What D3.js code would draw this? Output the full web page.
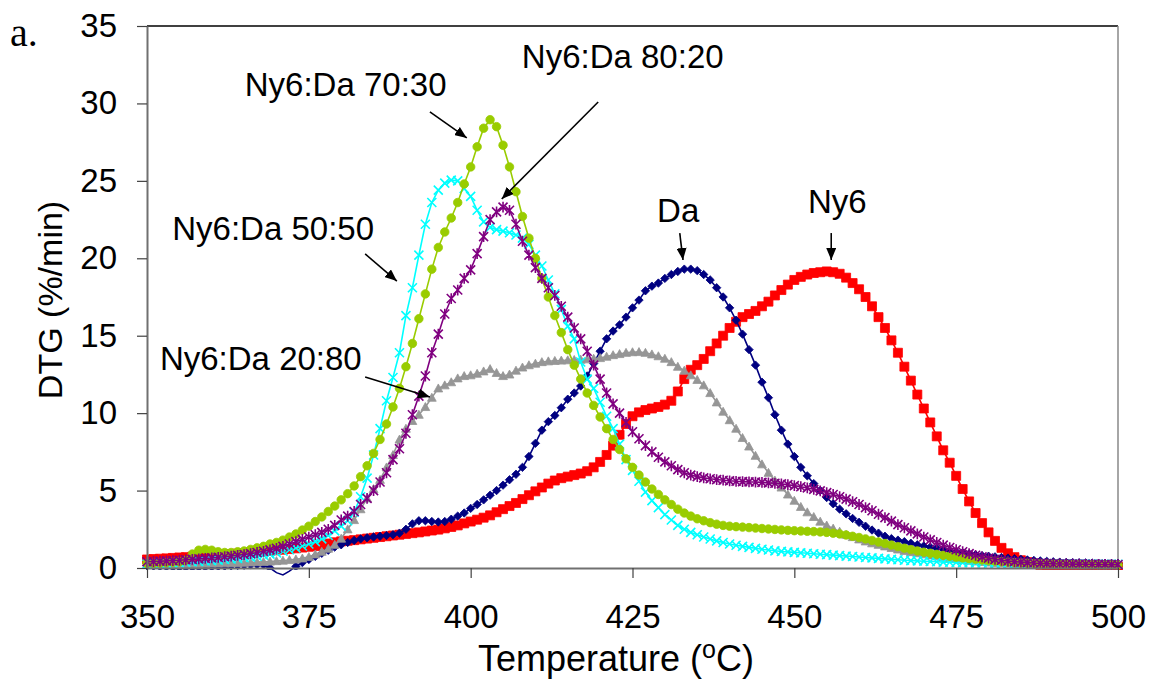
<!DOCTYPE html>
<html>
<head>
<meta charset="utf-8">
<script src="https://cdn.jsdelivr.net/npm/d3@7"></script>
<style>
  html, body { margin: 0; padding: 0; background: #fff; }
  svg { display: block; }
  text { font-family: "Liberation Sans", Arial, sans-serif; fill: #000; }
</style>
</head>
<body>
<svg id="chart" width="1152" height="680"></svg>
<script>
// ---------- data ----------
const temperatures = d3.range(350, 501, 1); // °C, one reading per degree

const ny6 = [
  0.55,0.58,0.6,0.62,0.65,0.68,0.7,0.73,0.76,0.79,
  0.82,0.85,0.88,0.9,0.93,0.96,1.0,1.03,1.07,1.1,
  1.14,1.18,1.22,1.27,1.32,1.37,1.42,1.5,1.58,1.66,
  1.72,1.76,1.8,1.85,1.9,1.95,2.0,2.05,2.1,2.15,
  2.2,2.25,2.3,2.36,2.42,2.48,2.56,2.65,2.75,2.88,
  3.0,3.12,3.25,3.4,3.6,3.8,4.0,4.2,4.45,4.7,
  4.95,5.2,5.45,5.65,5.8,5.9,6.0,6.1,6.25,6.5,
  6.85,7.3,7.9,8.6,9.3,9.8,10.05,10.2,10.3,10.4,
  10.55,10.8,11.4,12.2,12.8,13.1,13.5,14.0,14.5,15.0,
  15.5,15.9,16.2,16.4,16.6,16.9,17.2,17.6,17.95,18.3,
  18.6,18.8,18.95,19.05,19.1,19.15,19.1,19.0,18.75,18.4,
  18.0,17.5,16.9,16.2,15.5,14.7,13.9,13.0,12.1,11.2,
  10.3,9.4,8.5,7.6,6.8,5.95,5.1,4.3,3.55,2.9,
  2.3,1.75,1.3,0.95,0.7,0.5,0.38,0.28,0.2,0.15,
  0.12,0.1,0.1,0.09,0.09,0.08,0.08,0.08,0.08,0.08,0.08
];

const da = [
  0.15,0.12,0.1,0.08,0.06,0.05,0.05,0.05,0.06,0.07,
  0.08,0.1,0.12,0.14,0.16,0.18,0.2,0.22,0.2,0.0,
  -0.3,-0.45,-0.2,0.1,0.35,0.55,0.75,0.95,1.15,1.35,
  1.5,1.65,1.78,1.88,1.95,2.0,2.05,2.1,2.15,2.25,
  2.5,2.85,3.05,3.05,3.0,2.97,3.0,3.15,3.35,3.55,
  3.85,4.1,4.4,4.7,5.0,5.35,5.7,6.05,6.5,7.2,
  8.05,8.9,9.45,9.85,10.35,10.9,11.3,11.75,12.4,13.2,
  14.0,14.8,15.3,15.7,16.2,16.8,17.3,17.9,18.2,18.4,
  18.7,18.95,19.15,19.3,19.3,19.2,18.95,18.6,18.1,17.5,
  16.8,16.0,15.1,14.1,13.1,12.0,11.0,9.9,8.9,8.0,
  7.2,6.5,5.95,5.45,5.0,4.55,4.15,3.8,3.5,3.2,
  2.95,2.7,2.45,2.25,2.05,1.9,1.8,1.7,1.6,1.5,
  1.42,1.35,1.28,1.2,1.12,1.05,0.98,0.92,0.86,0.8,
  0.76,0.72,0.68,0.64,0.6,0.56,0.52,0.49,0.46,0.43,
  0.4,0.38,0.36,0.35,0.34,0.33,0.32,0.31,0.3,0.3,0.3
];

const mix7030 = [
  0.3,0.3,0.32,0.35,0.38,0.4,0.5,0.9,1.15,1.2,
  1.15,1.05,1.0,1.0,1.05,1.1,1.2,1.3,1.4,1.55,
  1.65,1.8,2.0,2.2,2.45,2.7,3.0,3.3,3.65,4.0,
  4.4,4.8,5.3,5.9,6.6,7.4,8.3,9.3,10.4,11.6,
  13.0,14.5,16.1,17.7,19.3,20.7,21.7,22.6,23.6,24.8,
  25.9,27.2,28.4,28.95,28.5,27.3,25.9,24.3,22.7,21.3,
  20.0,18.7,17.5,16.3,15.2,14.1,13.1,12.2,11.3,10.5,
  9.75,9.0,8.3,7.65,7.05,6.5,6.0,5.55,5.1,4.75,
  4.4,4.1,3.8,3.55,3.35,3.18,3.05,2.93,2.83,2.75,
  2.7,2.67,2.64,2.61,2.58,2.55,2.52,2.49,2.46,2.43,
  2.41,2.39,2.37,2.35,2.33,2.3,2.25,2.2,2.13,2.05,
  1.97,1.88,1.78,1.68,1.58,1.48,1.38,1.28,1.19,1.1,
  1.02,0.95,0.88,0.82,0.76,0.7,0.65,0.6,0.56,0.52,
  0.48,0.44,0.41,0.38,0.35,0.33,0.31,0.29,0.27,0.26,
  0.25,0.24,0.23,0.22,0.22,0.21,0.21,0.2,0.2,0.2,0.2
];

const mix5050 = [
  0.25,0.27,0.29,0.31,0.33,0.35,0.37,0.4,0.42,0.45,
  0.48,0.51,0.55,0.58,0.62,0.66,0.7,0.76,0.83,0.9,
  0.98,1.08,1.18,1.3,1.42,1.55,1.7,1.88,2.1,2.4,
  2.7,3.05,3.6,4.6,5.8,7.3,9.0,10.8,12.3,13.9,
  16.3,18.1,20.2,22.2,23.6,24.4,24.85,25.05,25.0,24.5,
  24.0,23.1,22.35,22.0,21.85,21.75,21.65,21.5,21.3,20.9,
  20.2,19.5,18.6,17.7,16.7,15.6,14.8,13.3,12.2,11.6,
  10.7,9.8,9.0,8.0,7.0,6.3,5.6,4.9,4.35,3.9,
  3.45,3.1,2.75,2.5,2.3,2.15,2.0,1.87,1.75,1.65,
  1.55,1.47,1.4,1.33,1.27,1.21,1.16,1.11,1.07,1.04,
  1.01,0.98,0.95,0.92,0.89,0.86,0.83,0.8,0.77,0.74,
  0.71,0.68,0.65,0.62,0.59,0.56,0.53,0.5,0.48,0.46,
  0.44,0.42,0.4,0.38,0.37,0.36,0.35,0.34,0.33,0.32,
  0.31,0.3,0.3,0.29,0.29,0.28,0.28,0.27,0.27,0.27,
  0.26,0.26,0.26,0.25,0.25,0.25,0.25,0.25,0.24,0.24,0.24
];

const mix2080 = [
  0.2,0.2,0.21,0.22,0.23,0.24,0.25,0.26,0.27,0.28,
  0.29,0.3,0.31,0.32,0.33,0.34,0.36,0.38,0.4,0.42,
  0.45,0.48,0.52,0.56,0.62,0.72,0.88,1.05,1.25,1.5,
  1.9,2.5,3.1,3.8,4.5,5.1,5.7,6.5,7.3,8.3,
  9.0,9.5,9.9,10.4,11.0,11.6,11.8,12.0,12.25,12.4,
  12.45,12.55,12.7,12.85,12.6,12.4,12.5,12.75,12.95,13.1,
  13.2,13.3,13.35,13.38,13.4,13.42,13.44,13.46,13.48,13.52,
  13.56,13.65,13.75,13.82,13.9,13.94,13.95,13.9,13.8,13.68,
  13.52,13.3,13.0,12.75,12.45,12.15,11.8,11.3,10.7,10.1,
  9.55,9.0,8.4,7.85,7.25,6.7,6.15,5.65,5.2,4.75,
  4.35,3.95,3.6,3.3,3.0,2.75,2.55,2.35,2.15,2.0,
  1.85,1.72,1.6,1.5,1.4,1.3,1.2,1.11,1.03,0.96,
  0.89,0.82,0.76,0.7,0.64,0.58,0.52,0.47,0.43,0.39,
  0.36,0.33,0.31,0.29,0.27,0.26,0.25,0.24,0.23,0.23,
  0.23,0.22,0.22,0.22,0.21,0.21,0.21,0.2,0.2,0.2,0.2
];

const mix8020 = [
  0.4,0.42,0.44,0.46,0.48,0.5,0.53,0.56,0.59,0.62,
  0.65,0.69,0.73,0.77,0.82,0.87,0.93,1.0,1.08,1.17,
  1.27,1.4,1.55,1.7,1.85,2.0,2.15,2.3,2.5,2.75,
  3.1,3.35,3.65,4.1,4.5,5.0,5.55,6.15,7.0,7.7,
  8.7,9.9,11.1,12.4,13.9,15.1,16.4,17.4,17.95,18.7,
  19.25,20.3,21.4,22.5,23.0,23.3,23.1,22.2,21.1,20.2,
  19.4,18.7,18.1,17.6,16.9,16.2,15.5,14.8,14.0,13.1,
  12.2,11.3,10.6,10.0,9.4,8.8,8.35,7.9,7.5,7.15,
  6.85,6.6,6.35,6.15,6.0,5.9,5.82,5.76,5.71,5.67,
  5.63,5.6,5.58,5.56,5.55,5.53,5.5,5.47,5.43,5.38,
  5.32,5.25,5.17,5.08,4.98,4.87,4.75,4.6,4.45,4.28,
  4.1,3.9,3.7,3.47,3.25,3.03,2.8,2.6,2.4,2.2,
  2.0,1.82,1.65,1.48,1.32,1.18,1.05,0.93,0.82,0.72,
  0.64,0.56,0.5,0.45,0.41,0.38,0.35,0.32,0.3,0.28,
  0.27,0.26,0.26,0.25,0.25,0.24,0.24,0.23,0.23,0.22,0.22
];

const xTicks = [350, 375, 400, 425, 450, 475, 500];
const yTicks = [0, 5, 10, 15, 20, 25, 30, 35];

// series (drawing order: first is at the back)
const seriesNames  = ["Ny6", "Da", "Ny6:Da 20:80", "Ny6:Da 50:50", "Ny6:Da 70:30", "Ny6:Da 80:20"];
const seriesValues = [ny6, da, mix2080, mix5050, mix7030, mix8020];
const seriesColors = ["#ff0000", "#000080", "#969696", "#00ffff", "#99cc00", "#800080"];
const seriesMarkers = ["square", "diamond", "triangle", "x", "circle", "star"];

// annotations: label anchor and arrow, in data units (°C, %/min)
const annotLabels = ["Ny6:Da 70:30", "Ny6:Da 80:20", "Ny6:Da 50:50", "Ny6:Da 20:80", "Da", "Ny6"];
const annotTextAt = [[365.1, 30.48], [407.9, 32.29], [353.9, 21.18], [352.0, 12.79], [428.8, 22.34], [452.1, 22.92]];
const annotArrowFrom = [[393.7, 29.45], [419.7, 30.09], [383.7, 20.28], [383.7, 12.33], [432.3, 21.63], [455.7, 21.63]];
const annotArrowTo   = [[399.4, 27.77], [404.8, 23.83], [388.6, 18.53], [393.7, 11.04], [432.8, 19.89], [455.7, 19.89]];

// ---------- chart ----------
const svg = d3.select("#chart");
const plotLeft = 147, plotRight = 1118, plotTop = 26, plotBottom = 568;

const x = d3.scaleLinear().domain([350, 500]).range([plotLeft, plotRight]);
const y = d3.scaleLinear().domain([0, 35]).range([plotBottom, plotTop]);

// clip for markers (markers outside the plot area are hidden)
svg.append("defs").append("clipPath").attr("id", "plotclip")
  .append("rect").attr("x", plotLeft - 6).attr("y", plotTop - 6)
  .attr("width", plotRight - plotLeft + 12).attr("height", plotBottom - plotTop + 8);

// plot frame: top and right borders
svg.append("line").attr("x1", plotLeft).attr("x2", plotRight).attr("y1", plotTop).attr("y2", plotTop)
  .attr("stroke", "#000").attr("stroke-width", 1.5);
svg.append("line").attr("x1", plotRight).attr("x2", plotRight).attr("y1", plotTop).attr("y2", plotBottom)
  .attr("stroke", "#888").attr("stroke-width", 1.5);

// marker shapes
function markerPath(kind, s) {
  const h = s / 2;
  switch (kind) {
    case "square": return `M${-h},${-h}H${h}V${h}H${-h}Z`;
    case "diamond": return `M0,${-h * 1.2}L${h * 1.2},0L0,${h * 1.2}L${-h * 1.2},0Z`;
    case "triangle": return `M0,${-h * 1.1}L${h * 1.1},${h * 0.9}L${-h * 1.1},${h * 0.9}Z`;
    case "circle": return d3.symbol(d3.symbolCircle, Math.PI * h * h)();
    case "x": return `M${-h},${-h}L${h},${h}M${-h},${h}L${h},${-h}`;
    case "star": return `M${-h},${-h}L${h},${h}M${-h},${h}L${h},${-h}M0,${-h * 1.2}L0,${h * 1.2}`;
  }
}
const markerSize = { square: 9, diamond: 7, triangle: 8, circle: 8.5, x: 9, star: 9 };

const line = d3.line().x(d => x(d[0])).y(d => y(d[1]));

seriesNames.forEach((name, i) => {
  const pts = temperatures.map((t, j) => [t, seriesValues[i][j]]);
  const g = svg.append("g").attr("class", "series").attr("data-name", name);
  g.append("path").datum(pts).attr("d", line)
    .attr("fill", "none").attr("stroke", seriesColors[i]).attr("stroke-width", 1.6);
  const kind = seriesMarkers[i];
  const open = (kind === "x" || kind === "star");
  g.append("g").attr("clip-path", "url(#plotclip)")
    .selectAll("path.m").data(pts.filter(d => d[1] >= -0.05)).join("path").attr("class", "m")
    .attr("transform", d => `translate(${x(d[0])},${y(d[1])})`)
    .attr("d", markerPath(kind, markerSize[kind]))
    .attr("fill", open ? "none" : seriesColors[i])
    .attr("stroke", seriesColors[i])
    .attr("stroke-width", open ? 1.6 : 0.8);
});

// axes
const xAxis = svg.append("g").attr("transform", `translate(0,${plotBottom})`)
  .call(d3.axisBottom(x).tickValues(xTicks).tickSize(10).tickSizeOuter(0).tickPadding(27));
const yAxis = svg.append("g").attr("transform", `translate(${plotLeft},0)`)
  .call(d3.axisLeft(y).tickValues(yTicks).tickSize(10).tickSizeOuter(0).tickPadding(20));
[xAxis, yAxis].forEach(a => {
  a.select(".domain").attr("stroke", "#707070").attr("stroke-width", 2);
  a.selectAll(".tick line").attr("stroke", "#404040").attr("stroke-width", 1.2);
  a.selectAll(".tick text").attr("font-size", 33).style("font-family", "'Liberation Sans', Arial, sans-serif").attr("fill", "#000");
});

// axis titles
svg.append("text").attr("x", 616).attr("y", 671)
  .attr("text-anchor", "middle").attr("font-size", 36)
  .html("Temperature (<tspan font-size='25' dy='-13'>o</tspan><tspan dy='13'>C)</tspan>");
svg.append("text").attr("transform", "translate(62,300) rotate(-90)")
  .attr("text-anchor", "middle").attr("font-size", 34).text("DTG (%/min)");

// panel letter
svg.append("text").attr("x", 10).attr("y", 46).attr("font-size", 40)
  .style("font-family", "'Liberation Serif', 'Times New Roman', serif").text("a.");

// arrowhead
svg.select("defs").append("marker").attr("id", "arrow")
  .attr("viewBox", "0 0 12 10").attr("refX", 12).attr("refY", 5)
  .attr("markerWidth", 12).attr("markerHeight", 10).attr("markerUnits", "userSpaceOnUse")
  .attr("orient", "auto")
  .append("path").attr("d", "M0,0L12,5L0,10Z").attr("fill", "#000");

annotLabels.forEach((lab, i) => {
  svg.append("text").attr("x", x(annotTextAt[i][0])).attr("y", y(annotTextAt[i][1]))
    .attr("font-size", 33).text(lab);
  svg.append("line")
    .attr("x1", x(annotArrowFrom[i][0])).attr("y1", y(annotArrowFrom[i][1]))
    .attr("x2", x(annotArrowTo[i][0])).attr("y2", y(annotArrowTo[i][1]))
    .attr("stroke", "#000").attr("stroke-width", 1.6).attr("marker-end", "url(#arrow)");
});
</script>
</body>
</html>
